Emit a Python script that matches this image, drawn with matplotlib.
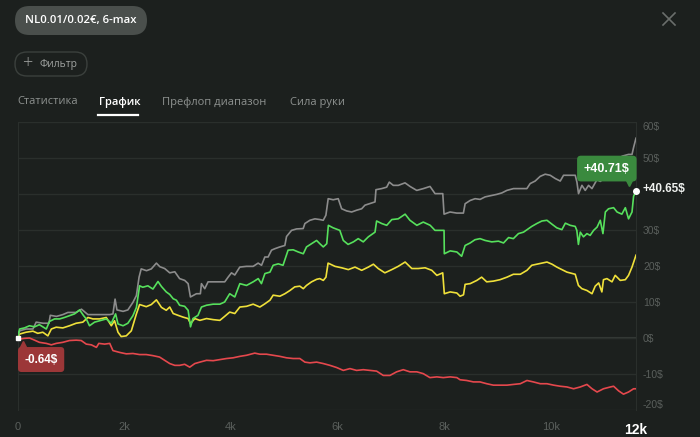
import matplotlib
matplotlib.use('Agg')
import matplotlib.pyplot as plt
from matplotlib.patches import FancyBboxPatch
from matplotlib.lines import Line2D
from matplotlib.transforms import offset_copy

plt.rcParams['font.family'] = ['Open Sans', 'DejaVu Sans']

# ---- data (hands played, winnings in $) ----
total_hands = 11600

gray_hands = [0, 40, 160, 290, 350, 480, 590, 615, 730, 850, 945, 1100, 1200, 1320, 1480,
              1730, 1790, 1830, 1865, 1980, 2070, 2165, 2230, 2280, 2320, 2420, 2510, 2605,
              2670, 2760, 2855, 2950, 3040, 3136, 3200, 3243, 3356, 3430, 3450, 3512, 3574,
              3730, 3887, 3950, 4013, 4075, 4169, 4295, 4420, 4513, 4577, 4639, 4700, 4764,
              4826, 4920, 5014, 5046, 5140, 5234, 5358, 5390, 5484, 5578, 5672, 5734, 5784,
              5827, 5921, 6015, 6079, 6173, 6267, 6361, 6455, 6517, 6642, 6705, 6723, 6830,
              6924, 6973, 7048, 7142, 7268, 7362, 7488, 7612, 7737, 7831, 7976, 8000, 8113,
              8238, 8363, 8395, 8489, 8582, 8676, 8770, 8896, 8990, 9084, 9178, 9302, 9428,
              9553, 9615, 9709, 9803, 9897, 9991, 10085, 10179, 10241, 10367, 10460, 10492,
              10522, 10586, 10648, 10710, 10774, 10868, 10930, 11055, 11180, 11306, 11337,
              11460, 11525, 11556, 11600]
gray_vals = [0, 2.0, 2.5, 2.5, 4.4, 4.1, 4.1, 6.3, 6.0, 6.5, 7.1, 7.1, 8.0, 6.5, 6.5,
             6.5, 6.7, 10.8, 7.8, 7.4, 7.8, 9.9, 11.8, 16.9, 19.2, 18.7, 19.2, 20.8,
             19.8, 19.3, 18.1, 18.4, 16.5, 16.0, 15.1, 11.4, 12.3, 12.3, 15.1, 13.7, 15.6,
             15.6, 15.6, 16.9, 18.1, 17.5, 19.7, 19.9, 19.9, 20.8, 20.2, 22.5, 22.5, 24.4,
             24.8, 25.3, 25.7, 28.2, 29.9, 30.3, 30.4, 31.8, 32.7, 33.1, 32.9, 32.7, 34.1,
             38.7, 38.4, 38.7, 35.9, 35.3, 35.0, 35.5, 35.9, 36.9, 37.5, 37.8, 41.2, 41.5,
             41.9, 43.3, 42.4, 42.4, 43.1, 42.1, 41.0, 41.5, 42.1, 40.1, 40.1, 34.4, 35.0,
             34.7, 34.7, 37.3, 38.2, 38.7, 38.5, 39.2, 39.6, 39.9, 40.3, 41.0, 41.5, 41.5,
             41.5, 42.9, 43.6, 44.9, 45.5, 45.2, 44.3, 43.6, 45.2, 45.2, 45.2, 43.3,
             40.1, 42.4, 41.0, 42.4, 41.5, 44.0, 43.5, 45.0, 46.5, 48.5, 50.5,
             51.0, 51.0, 53.0, 55.5]

green_hands = [0, 40, 130, 225, 320, 410, 540, 600, 695, 790, 880, 975, 1070, 1165, 1240,
               1290, 1350, 1445, 1540, 1665, 1760, 1840, 1885, 1980, 2070, 2165, 2230, 2290,
               2350, 2445, 2540, 2635, 2700, 2790, 2855, 2920, 2980, 3040, 3135, 3200, 3245,
               3290, 3385, 3450, 3545, 3670, 3795, 3885, 3980, 4075, 4170, 4295, 4420, 4515,
               4575, 4640, 4735, 4795, 4890, 4980, 5075, 5170, 5265, 5360, 5420, 5515, 5610,
               5670, 5735, 5800, 5830, 5920, 6045, 6110, 6200, 6300, 6390, 6485, 6580, 6705,
               6735, 6830, 6925, 7020, 7140, 7270, 7360, 7490, 7610, 7740, 7830, 8000, 8005,
               8115, 8240, 8330, 8395, 8490, 8580, 8675, 8770, 8895, 9020, 9115, 9210, 9300,
               9395, 9490, 9585, 9645, 9740, 9835, 9930, 10025, 10115, 10210, 10275, 10365,
               10460, 10490, 10520, 10555, 10615, 10680, 10740, 10805, 10870, 10930, 10980,
               11025, 11085, 11180, 11245, 11335, 11400, 11460, 11525, 11555, 11600]
green_vals = [0, 2.5, 2.8, 3.4, 3.1, 3.7, 2.5, 4.6, 5.3, 5.3, 5.7, 6.2, 6.7, 7.8, 6.2,
              5.3, 3.4, 4.4, 4.8, 5.3, 4.1, 6.7, 3.9, 3.4, 4.1, 6.2, 8.5, 14.5,
              14.1, 14.5, 13.6, 15.7, 14.3, 12.8, 12.1, 10.9, 10.5, 9.1, 8.8, 7.7, 3.1,
              5.4, 6.3, 8.6, 9.1, 9.4, 9.4, 10.0, 12.3, 11.4, 15.1, 14.6, 15.6, 16.5,
              15.1, 17.9, 18.3, 20.2, 20.6, 20.2, 24.4, 24.5, 23.9, 23.4, 25.3, 26.2, 27.1,
              26.2, 25.3, 26.2, 31.3, 30.6, 29.9, 27.1, 26.0, 26.7, 27.6, 26.7, 28.1, 29.4,
              32.5, 31.8, 31.3, 32.9, 33.1, 34.4, 32.7, 31.3, 32.2, 31.3, 29.9, 29.9, 23.4,
              24.2, 23.9, 22.7, 25.7, 26.4, 27.3, 27.6, 27.1, 26.7, 26.9, 26.4, 27.9, 27.6,
              29.0, 29.4, 30.4, 31.0, 31.8, 32.5, 32.7, 31.6, 30.6, 30.1, 31.9, 31.3,
              31.0, 29.9, 26.0, 29.4, 28.1, 29.0, 28.5, 29.9, 30.8, 32.7, 29.0,
              35.0, 35.9, 36.2, 35.0, 34.4, 36.2, 33.1, 35.0, 39.4, 40.7]

yellow_hands = [0, 40, 160, 290, 380, 475, 570, 635, 725, 850, 975, 1100, 1225, 1320, 1415,
                1540, 1665, 1760, 1820, 1885, 1945, 2040, 2135, 2230, 2290, 2415, 2510, 2605,
                2700, 2790, 2855, 2920, 3010, 3105, 3200, 3245, 3325, 3420, 3545, 3670, 3795,
                3885, 3980, 4075, 4170, 4295, 4420, 4545, 4640, 4735, 4795, 4920, 5015, 5110,
                5200, 5295, 5360, 5420, 5515, 5610, 5670, 5735, 5785, 5825, 5955, 6080, 6205,
                6330, 6455, 6580, 6675, 6765, 6890, 7020, 7140, 7270, 7395, 7515, 7645, 7770,
                7865, 7975, 8005, 8115, 8240, 8300, 8365, 8395, 8490, 8615, 8705, 8800, 8925,
                9050, 9180, 9300, 9430, 9555, 9645, 9740, 9835, 9930, 10025, 10115, 10210,
                10305, 10460, 10520, 10585, 10680, 10775, 10835, 10900, 10960, 10990, 11055,
                11150, 11210, 11305, 11400, 11460, 11525, 11600]
yellow_vals = [0, 1.1, 1.6, 1.9, 1.3, 1.6, 0.6, 2.5, 3.0, 2.8, 3.4, 4.1, 4.4, 5.7, 5.3,
               5.3, 5.7, 3.4, 4.8, 1.6, 0.4, 0.6, 2.0, 6.7, 9.3, 8.7, 9.3, 10.6,
               8.5, 7.7, 8.6, 6.8, 6.3, 5.8, 5.4, 4.0, 5.4, 4.9, 5.4, 5.1, 4.9,
               6.0, 7.2, 6.8, 8.6, 8.8, 9.4, 8.6, 9.5, 10.5, 11.9, 11.6, 12.3, 13.2,
               14.2, 14.4, 13.7, 14.6, 15.6, 16.3, 16.5, 16.0, 16.9, 20.8, 19.9, 19.5, 19.0,
               19.7, 18.8, 19.7, 20.5, 19.3, 18.1, 19.0, 19.9, 21.1, 19.3, 19.3, 19.5, 18.8,
               17.4, 18.1, 12.3, 12.8, 12.5, 11.6, 12.0, 14.9, 15.1, 16.0, 16.9, 15.6, 15.8,
               16.2, 16.9, 17.7, 17.7, 18.8, 20.2, 20.5, 20.8, 21.1, 20.5, 19.7, 19.0,
               18.3, 17.7, 14.6, 13.7, 13.2, 12.3, 14.4, 15.3, 12.8, 16.2, 16.5,
               15.6, 17.4, 16.0, 16.2, 17.4, 19.7, 23.0]

red_hands = [0, 40, 130, 225, 320, 410, 540, 635, 725, 850, 975, 1100, 1195, 1290, 1385,
             1480, 1525, 1635, 1730, 1790, 1915, 2040, 2165, 2290, 2415, 2540, 2665, 2760,
             2855, 2950, 3040, 3135, 3230, 3325, 3420, 3545, 3670, 3795, 3920, 4045, 4170,
             4295, 4450, 4545, 4670, 4795, 4920, 5045, 5170, 5295, 5390, 5485, 5610, 5735,
             5860, 5985, 6110, 6235, 6360, 6485, 6610, 6735, 6860, 6985, 7110, 7235, 7360,
             7490, 7610, 7735, 7865, 7985, 8115, 8240, 8300, 8425, 8550, 8675, 8800, 8925,
             9050, 9180, 9300, 9430, 9555, 9675, 9805, 9930, 10055, 10180, 10305, 10430,
             10555, 10680, 10775, 10870, 10990, 11120, 11180, 11275, 11365, 11460, 11555, 11600]
red_vals = [0, -0.3, -0.1, 0, -0.6, -1.2, -1.5, -1.9, -1.5, -1.2, -0.7, -0.6, -0.7, -1.7, -1.9,
            -2.6, -1.5, -1.7, -1.5, -3.5, -4.0, -4.4, -4.3, -4.6, -4.6, -4.9, -5.3, -6.2,
            -7.1, -7.6, -7.6, -7.3, -8.1, -7.1, -6.7, -6.2, -6.3, -6.0, -5.7, -5.5, -5.1,
            -4.8, -4.2, -4.5, -4.5, -4.8, -5.1, -5.5, -5.7, -5.7, -6.7, -6.9, -6.7, -7.1,
            -7.6, -8.2, -9.0, -8.5, -9.0, -8.8, -9.0, -9.2, -10.4, -10.4, -9.4, -8.8, -9.4,
            -9.4, -9.9, -11.0, -10.8, -11.0, -10.8, -11.0, -11.6, -11.8, -12.2, -12.2, -12.7, -13.1,
            -13.1, -13.1, -12.9, -12.7, -11.8, -12.2, -12.7, -12.7, -13.1, -13.4, -13.6, -14.1,
            -13.6, -12.9, -14.1, -15.0, -14.1, -13.6, -13.4, -14.7, -15.6, -15.0, -14.1, -14.1]

x_ticks = [0, 2000, 4000, 6000, 8000, 10000, total_hands]
x_labels = ['0', '2k', '4k', '6k', '8k', '10k', '12k']
y_ticks = [-20, -10, 0, 10, 20, 30, 40, 50, 60]

BG = '#1c201e'
GRID = '#2a2f2c'
DIM = '#5a5f5c'

fig = plt.figure(figsize=(7, 4.37), dpi=100, facecolor=BG)

# ---- header (pixel positions -> inches) ----
def px(x, y):
    return x / 100, (437 - y) / 100

pill = FancyBboxPatch(px(15, 35), 1.32, 0.29, boxstyle='round,pad=0,rounding_size=0.145',
                      transform=fig.dpi_scale_trans, fc='#4a4f4c', ec='none')
fig.patches.append(pill)
fig.text(*px(81, 21), 'NL0.01/0.02€, 6-max', transform=fig.dpi_scale_trans,
         ha='center', va='center', color='white', fontsize=8.2, fontweight='semibold')

filt = FancyBboxPatch(px(15, 76), 0.72, 0.24, boxstyle='round,pad=0,rounding_size=0.12',
                      transform=fig.dpi_scale_trans, fc='none', ec='#3b403d', lw=1)
fig.patches.append(filt)
fig.text(*px(27, 63), '+', transform=fig.dpi_scale_trans, ha='center', va='center',
         color='#a0a3a1', fontsize=13, fontweight='light')
fig.text(*px(39, 64), 'Фильтр', transform=fig.dpi_scale_trans, ha='left', va='center',
         color='#a0a3a1', fontsize=7.5)

tabs = [('Статистика', 17, '#8e9290'), ('График', 99, 'white'),
        ('Префлоп диапазон', 162, '#8e9290'), ('Сила руки', 290, '#8e9290')]
for label, tx, col in tabs:
    fig.text(*px(tx, 102), label, transform=fig.dpi_scale_trans, ha='left', va='center',
             color=col, fontsize=8, fontweight='semibold' if col == 'white' else 'normal')
fig.lines.append(Line2D([0.98, 1.38], [(437 - 115) / 100] * 2, transform=fig.dpi_scale_trans,
                        color='white', lw=1.6))

# close icon
fig.lines.append(Line2D([6.63, 6.75], [4.24, 4.12], transform=fig.dpi_scale_trans, color='#6a6e6b', lw=1.2))
fig.lines.append(Line2D([6.63, 6.75], [4.12, 4.24], transform=fig.dpi_scale_trans, color='#6a6e6b', lw=1.2))

# ---- chart ----
ax = fig.add_axes([17.5 / 700, 1 - 410 / 437, (636 - 17.5) / 700, (410 - 122) / 437])
ax.set_facecolor(BG)

ax.plot(red_hands, red_vals, color='#e5484d', lw=1.2, zorder=3)
ax.plot(yellow_hands, yellow_vals, color='#efe03a', lw=1.2, zorder=3)
ax.plot(gray_hands, gray_vals, color='#8c8c8c', lw=1.2, zorder=3)
ax.plot(green_hands, green_vals, color='#56e05c', lw=1.2, zorder=4)

ax.set_xlim(0, total_hands)
ax.set_ylim(-20, 60)
ax.set_yticks(y_ticks)
# the 40$ tick sits under the current-value label
ax.set_yticklabels(['' if v == 40 else f'{v}$' for v in y_ticks])
ax.yaxis.tick_right()
ax.set_xticks(x_ticks)
ax.set_xticklabels(x_labels)
ax.tick_params(axis='y', length=0, pad=5, labelcolor=DIM, labelsize=7.5)
ax.tick_params(axis='x', length=0, pad=9, labelcolor=DIM, labelsize=8)
for t in ax.get_yticklabels() + ax.get_xticklabels():
    t.set_fontfamily('Liberation Sans')
ylabs = ax.get_yticklabels()
ylabs[-1].set_va('top')
ylabs[0].set_va('bottom')
xl = ax.get_xticklabels()[-1]
xl.set_color('white')
xl.set_fontweight('bold')
xl.set_fontsize(10)

ax.grid(axis='y', color=GRID, lw=1)
ax.axhline(0, color='#363b38', lw=1.5, zorder=1)
for s in ['top', 'bottom']:
    ax.spines[s].set_visible(False)
for s in ['left', 'right']:
    ax.spines[s].set_color(GRID)

# end point + tooltips
end_x, end_y = green_hands[-1], green_vals[-1]
ax.plot(end_x, end_y, 'o', color='white', ms=4, zorder=6, clip_on=False)
ax.plot(0, 0, 's', color='white', ms=3, zorder=6, clip_on=False)

ax.annotate('+40.71$', xy=(end_x, end_y), xytext=(-21, 16.5), textcoords='offset points',
            ha='center', va='center', color='white', fontsize=9, fontweight='bold',
            family='Liberation Sans', zorder=7,
            bbox=dict(boxstyle='round,pad=0.55,rounding_size=0.3', fc='#3a8a3e', ec='none'))
ax.plot(end_x, end_y, 'v', color='#3a8a3e', ms=6, zorder=7, clip_on=False,
        transform=offset_copy(ax.transData, fig=fig, x=-5, y=7, units='points'))
ax.annotate('+40.65$', xy=(end_x, end_y), xytext=(5, 1.5), textcoords='offset points',
            ha='left', va='center', color='#eef0ee', fontsize=8.5, fontweight='bold',
            family='Liberation Sans', zorder=7)

ax.annotate('-0.64$', xy=(0, 0), xytext=(17, -15.5), textcoords='offset points',
            ha='center', va='center', color='white', fontsize=8.5, fontweight='bold',
            family='Liberation Sans', zorder=7,
            bbox=dict(boxstyle='round,pad=0.55,rounding_size=0.3', fc='#9c3738', ec='none'))
ax.plot(0, 0, '^', color='#9c3738', ms=6, zorder=7, clip_on=False,
        transform=offset_copy(ax.transData, fig=fig, x=4, y=-5, units='points'))

fig.savefig('out.png', dpi=100, facecolor=BG)
